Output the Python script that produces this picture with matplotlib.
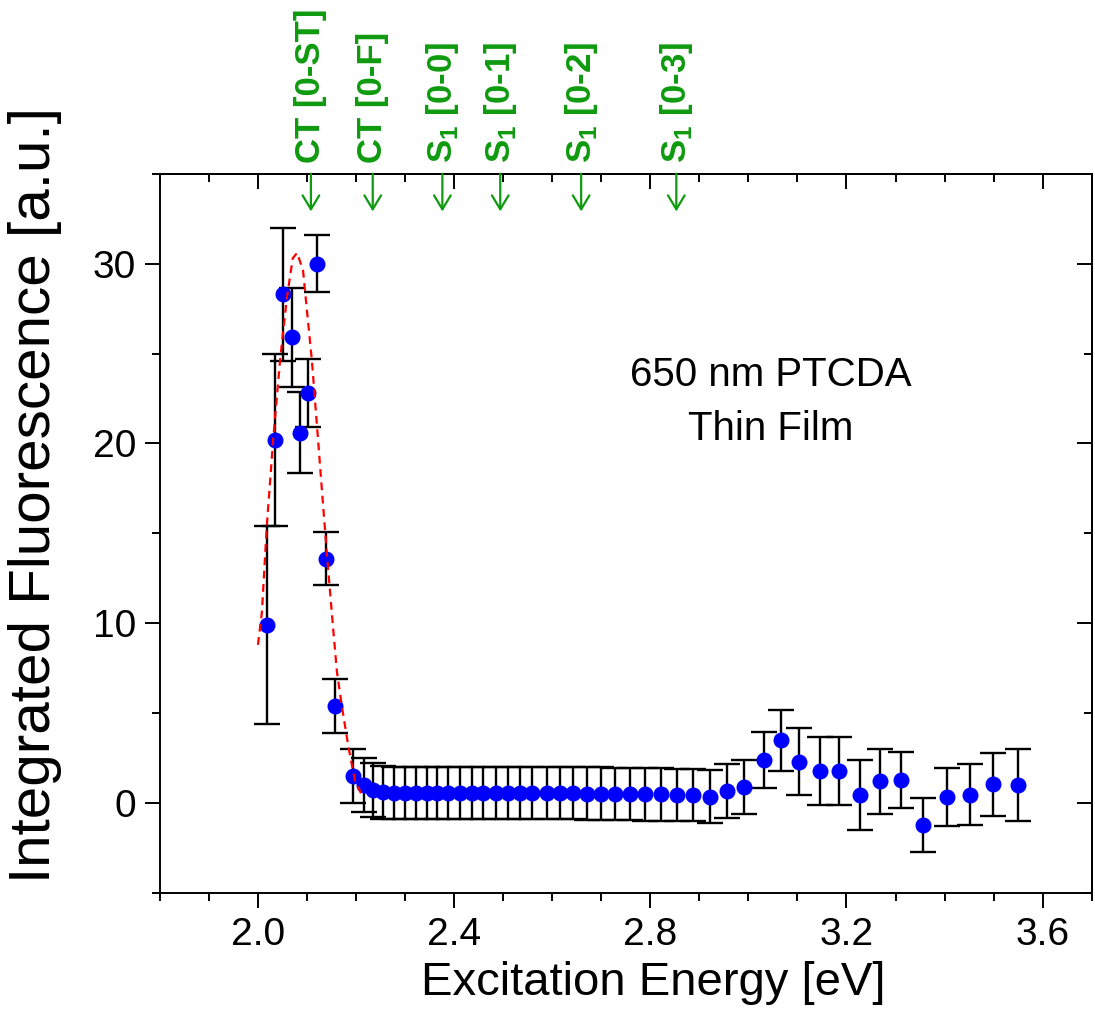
import matplotlib
matplotlib.use("Agg")
import matplotlib.pyplot as plt
from matplotlib.ticker import MultipleLocator, FormatStrFormatter

plt.rcParams["font.family"] = ["Liberation Sans", "DejaVu Sans"]
plt.rcParams["mathtext.fontset"] = "custom"
plt.rcParams["mathtext.rm"] = "Liberation Sans"

# measured points (excitation energy in eV, integrated fluorescence, error)
energy = [2.018, 2.035, 2.051, 2.069, 2.086, 2.102, 2.120, 2.139, 2.157, 2.194,
          2.216, 2.235, 2.255, 2.278, 2.300, 2.322, 2.345, 2.365, 2.388, 2.412,
          2.437, 2.459, 2.486, 2.510, 2.535, 2.559, 2.590, 2.616, 2.643, 2.671,
          2.700, 2.729, 2.759, 2.790, 2.822, 2.855, 2.888, 2.922,
          2.957, 2.992, 3.031, 3.067, 3.104, 3.145, 3.184, 3.227, 3.269, 3.312,
          3.357, 3.404, 3.451, 3.498, 3.549]
fluor = [9.9, 20.2, 28.3, 25.9, 20.6, 22.8, 30.0, 13.6, 5.4, 1.5,
         1.0, 0.75, 0.6, 0.55, 0.55, 0.55, 0.55, 0.55, 0.55, 0.55,
         0.55, 0.55, 0.55, 0.55, 0.55, 0.55, 0.55, 0.55, 0.55, 0.52,
         0.52, 0.5, 0.5, 0.48, 0.48, 0.46, 0.44, 0.36,
         0.66, 0.88, 2.38, 3.5, 2.3, 1.8, 1.8, 0.44, 1.2, 1.3,
         -1.2, 0.33, 0.47, 1.05, 1.0]
fluor_err = [5.5, 4.8, 3.7, 2.75, 2.25, 1.9, 1.6, 1.5, 1.5, 1.5,
             1.5, 1.5, 1.48, 1.46, 1.46, 1.46, 1.46, 1.46, 1.46, 1.46,
             1.46, 1.46, 1.46, 1.46, 1.46, 1.46, 1.46, 1.46, 1.46, 1.46,
             1.46, 1.46, 1.46, 1.46, 1.46, 1.46, 1.46, 1.48,
             1.5, 1.5, 1.55, 1.7, 1.85, 1.9, 1.9, 1.95, 1.8, 1.55,
             1.5, 1.6, 1.7, 1.75, 2.0]

# gaussian fit curve
fit_x = [2.000, 2.008, 2.018, 2.031, 2.045, 2.059, 2.071, 2.080, 2.092, 2.102,
         2.110, 2.120, 2.131, 2.141, 2.153, 2.161, 2.171, 2.184, 2.198, 2.212]
fit_y = [8.8, 10.6, 15.4, 20.2, 24.6, 28.1, 30.3, 30.6, 29.6, 26.8,
         24.6, 21.1, 17.2, 13.7, 9.8, 7.3, 5.4, 3.2, 1.2, 0.45]

# transition markers on top
marker_pos = [2.108, 2.234, 2.376, 2.494, 2.659, 2.853]
marker_labels = ["CT [0-ST]", "CT [0-F]",
                 r"S$_\mathregular{1}$ [0-0]", r"S$_\mathregular{1}$ [0-1]",
                 r"S$_\mathregular{1}$ [0-2]", r"S$_\mathregular{1}$ [0-3]"]

GREEN = "#0f9a0f"

fig = plt.figure(figsize=(10.95, 10.18), dpi=100)
ax = fig.add_axes([0.146, 0.1228, 0.851, 0.7066])

ax.errorbar(energy, fluor, yerr=fluor_err, fmt="none", ecolor="black",
            elinewidth=1.7, capsize=9.7, capthick=1.7, zorder=2)
ax.plot(energy, fluor, "o", color="#0000ff", markersize=10.5, zorder=3)
ax.plot(fit_x, fit_y, color="red", lw=1.6, linestyle=(0, (3.5, 2.5)), zorder=4)

ax.set_xlim(1.8, 3.7)
ax.set_ylim(-5, 35)

ax.xaxis.set_major_locator(MultipleLocator(0.4))
ax.xaxis.set_minor_locator(MultipleLocator(0.1))
ax.xaxis.set_major_formatter(FormatStrFormatter("%.1f"))
ax.yaxis.set_major_locator(MultipleLocator(10))
ax.yaxis.set_minor_locator(MultipleLocator(5))

for s in ax.spines.values():
    s.set_linewidth(1.4)
ax.tick_params(which="both", direction="out", width=1.4, labelsize=28, pad=6)
ax.tick_params(which="major", length=11)
ax.tick_params(which="minor", length=6)

# inward ticks on top and right
top = ax.secondary_xaxis("top")
top.xaxis.set_major_locator(MultipleLocator(0.4))
top.xaxis.set_minor_locator(MultipleLocator(0.1))
right = ax.secondary_yaxis("right")
right.yaxis.set_major_locator(MultipleLocator(10))
right.yaxis.set_minor_locator(MultipleLocator(5))
for sec in (top, right):
    sec.tick_params(which="both", direction="in", width=1.4, labelleft=False,
                    labelright=False, labeltop=False, labelbottom=False)
    sec.tick_params(which="major", length=11)
    sec.tick_params(which="minor", length=6)
    for s in sec.spines.values():
        s.set_linewidth(1.4)

ax.set_xlabel("Excitation Energy [eV]", fontsize=34)
ax.set_ylabel("Integrated Fluorescence [a.u.]", fontsize=42)
ax.xaxis.set_label_coords(0.529, -0.095)
ax.yaxis.set_label_coords(-0.105, 0.553)

ax.text(3.045, 23.2, "650 nm PTCDA", fontsize=29, ha="center", va="baseline")
ax.text(3.045, 20.17, "Thin Film", fontsize=29, ha="center", va="baseline")

for x, lab in zip(marker_pos, marker_labels):
    ax.annotate("", xy=(x, 32.9), xytext=(x, 35),
                arrowprops=dict(arrowstyle="->,head_length=0.5,head_width=0.3",
                                color=GREEN, lw=1.6, shrinkA=0, shrinkB=0,
                                mutation_scale=20),
                annotation_clip=False, zorder=5)
    ax.annotate(lab, xy=(x, 1.0), xycoords=("data", "axes fraction"),
                xytext=(0, 8), textcoords="offset points", rotation=90,
                ha="center", va="bottom", fontsize=25, fontweight="bold",
                color=GREEN)

fig.savefig("out.png", dpi=100)
